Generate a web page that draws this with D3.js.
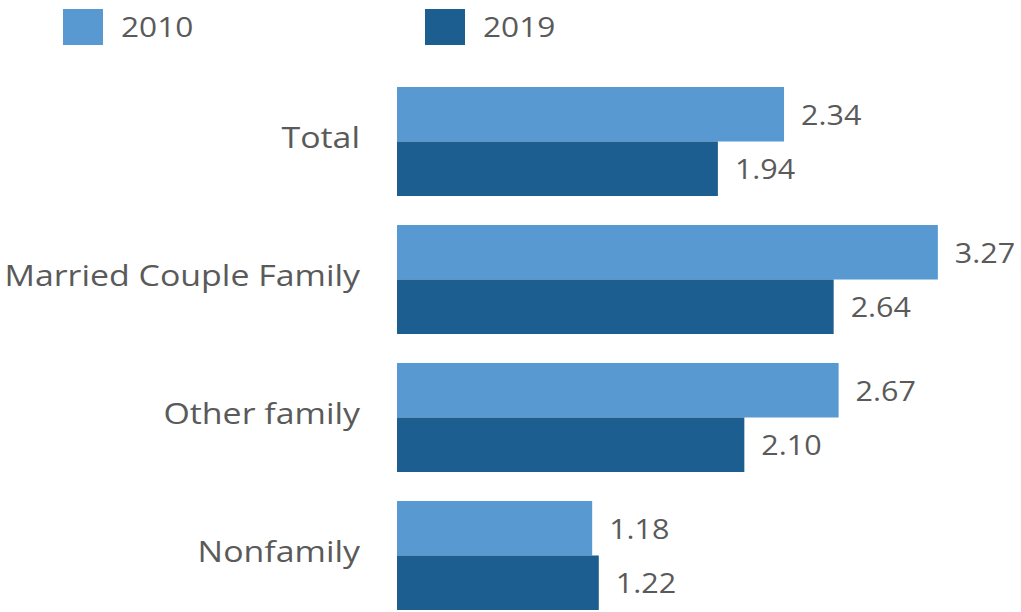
<!DOCTYPE html>
<html>
<head>
<meta charset="utf-8">
<script src="https://cdn.jsdelivr.net/npm/d3@7"></script>
<style>
  html, body { margin: 0; padding: 0; background: #fff; }
  svg { display: block; font-family: "Open Sans", sans-serif; }
</style>
</head>
<body>
<svg id="chart" width="1021" height="612"></svg>
<script>
// Household categories and the two survey years
const categories = ["Total", "Married Couple Family", "Other family", "Nonfamily"];
const years = ["2010", "2019"];
const values2010 = [2.34, 3.27, 2.67, 1.18];
const values2019 = [1.94, 2.64, 2.10, 1.22];
const yearColors = ["#5899d1", "#1b5e8f"];

const series = [values2010, values2019];
const rows = categories.map((c, i) => ({
  category: c,
  bars: years.map((y, j) => ({ year: y, value: series[j][i], color: yearColors[j] }))
}));

const svg = d3.select("#chart");
const textColor = "#5a5a5a";
const stretch = 1.13; // wide lettering

const x = d3.scaleLinear().domain([0, 1]).range([397, 397 + 165.4]);
const y0 = d3.scaleBand().domain(categories).range([87, 610]).paddingInner(0.21).paddingOuter(0);
const y1 = d3.scaleBand().domain(years).range([0, y0.bandwidth()]);

// Adds a horizontally widened text label at (px, py)
function label(parent, px, py, txt, size, anchor) {
  return parent.append("g")
    .attr("transform", `translate(${px},${py}) scale(${stretch},1)`)
    .append("text")
    .attr("dy", "0.35em")
    .attr("text-anchor", anchor)
    .attr("font-size", size)
    .attr("fill", textColor)
    .text(txt);
}

// Legend
const legend = svg.append("g");
const legendX = [63, 425];
years.forEach((yr, j) => {
  legend.append("rect")
    .attr("x", legendX[j]).attr("y", 9)
    .attr("width", 40).attr("height", 36)
    .attr("fill", yearColors[j]);
  label(legend, legendX[j] + 58, 27, yr, 28, "start");
});

// Bar groups
const groups = svg.append("g").selectAll("g")
  .data(rows).join("g")
  .attr("transform", d => `translate(0,${y0(d.category)})`);

groups.each(function (d) {
  label(d3.select(this), 360, y0.bandwidth() / 2 - 4, d.category, 30, "end");
});

groups.selectAll("rect")
  .data(d => d.bars).join("rect")
  .attr("x", x(0))
  .attr("y", d => y1(d.year))
  .attr("width", d => x(d.value) - x(0))
  .attr("height", y1.bandwidth())
  .attr("fill", d => d.color);

groups.each(function (d) {
  const g = d3.select(this);
  d.bars.forEach(b => {
    label(g, x(b.value) + 17, y1(b.year) + y1.bandwidth() / 2 + 1, b.value.toFixed(2), 27, "start");
  });
});
</script>
</body>
</html>
